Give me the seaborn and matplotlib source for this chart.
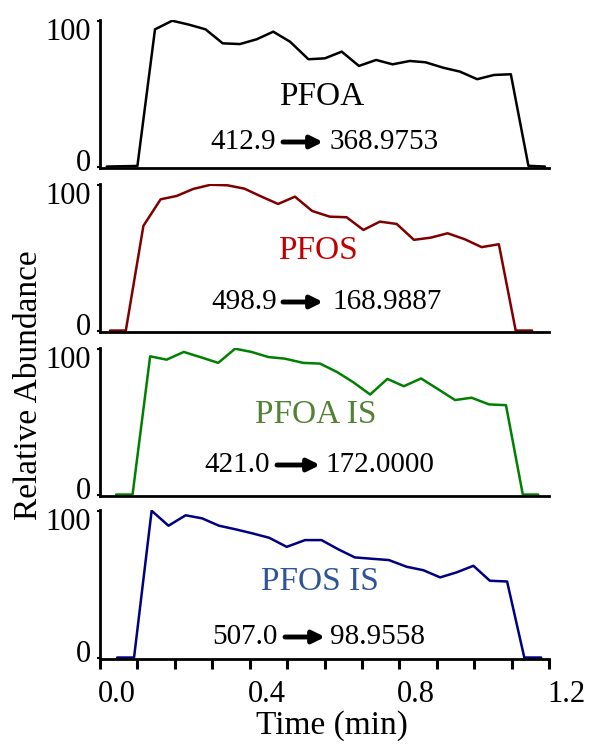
import matplotlib
matplotlib.use("Agg")
import matplotlib.pyplot as plt
import matplotlib.transforms as mtransforms
import seaborn as sns

# Retention time (min) and relative abundance (%) for each MRM transition
pfoa_time = [0.018, 0.100, 0.147, 0.193, 0.238, 0.282, 0.328, 0.374, 0.419, 0.463,
             0.508, 0.557, 0.601, 0.646, 0.692, 0.738, 0.782, 0.828, 0.870, 0.917,
             0.962, 1.008, 1.053, 1.098, 1.145, 1.189]
pfoa_abund = [0.0, 0.4, 94.1, 100.0, 97.3, 94.1, 84.5, 84.0, 87.3, 92.5,
              85.6, 73.6, 74.2, 78.8, 69.0, 73.1, 70.1, 72.4, 71.5, 67.8,
              65.1, 59.9, 62.8, 63.3, 0.5, 0.0]

pfos_time = [0.027, 0.069, 0.116, 0.162, 0.205, 0.249, 0.296, 0.341, 0.386, 0.432,
             0.476, 0.521, 0.567, 0.614, 0.659, 0.704, 0.748, 0.793, 0.839, 0.884,
             0.929, 0.975, 1.020, 1.066, 1.111, 1.155]
pfos_abund = [0.0, 0.0, 71.8, 90.0, 92.3, 97.1, 100.0, 99.6, 97.3, 91.8,
              86.8, 91.8, 82.0, 78.1, 77.7, 69.0, 74.7, 73.1, 62.2, 63.7,
              66.7, 62.6, 57.2, 59.2, 0.0, 0.0]

pfoa_is_time = [0.043, 0.087, 0.134, 0.178, 0.224, 0.270, 0.316, 0.361, 0.405, 0.450,
                0.494, 0.543, 0.588, 0.633, 0.677, 0.722, 0.768, 0.812, 0.858, 0.902,
                0.949, 0.993, 1.040, 1.085, 1.130, 1.171]
pfoa_is_abund = [0.0, 0.0, 94.8, 92.5, 97.8, 94.1, 90.3, 100.0, 97.8, 94.3,
                 93.2, 90.3, 89.8, 84.1, 77.0, 68.6, 79.3, 74.3, 79.6, 72.5,
                 64.8, 66.4, 61.8, 61.3, 0.0, 0.0]

pfos_is_time = [0.046, 0.091, 0.138, 0.183, 0.229, 0.273, 0.318, 0.363, 0.407, 0.452,
                0.499, 0.548, 0.592, 0.637, 0.681, 0.726, 0.772, 0.820, 0.864, 0.909,
                0.953, 0.998, 1.042, 1.088, 1.134, 1.179]
pfos_is_abund = [0.0, 0.0, 100.0, 89.8, 96.9, 94.8, 89.8, 87.3, 84.6, 81.6,
                 75.4, 80.0, 80.0, 73.7, 68.2, 67.3, 66.4, 61.8, 59.5, 54.6,
                 58.0, 62.5, 52.3, 51.8, 0.0, 0.0]

compounds = ["PFOA", "PFOS", "PFOA IS", "PFOS IS"]
precursors = ["412.9", "498.9", "421.0", "507.0"]
products = ["368.9753", "168.9887", "172.0000", "98.9558"]
x_ticks = [0.0, 0.1, 0.2, 0.3, 0.4, 0.5, 0.6, 0.7, 0.8, 0.9, 1.0, 1.1, 1.2]
x_tick_labels = ["0.0", "", "", "", "0.4", "", "", "", "0.8", "", "", "", "1.2"]
y_ticks = [0, 100]
y_tick_labels = ["0", "100"]

times = [pfoa_time, pfos_time, pfoa_is_time, pfos_is_time]
abunds = [pfoa_abund, pfos_abund, pfoa_is_abund, pfos_is_abund]
line_colors = ["#000000", "#800000", "#008000", "#000080"]
name_colors = ["#000000", "#C00000", "#548235", "#2F5597"]

sns.set_theme(style="white")
plt.rcParams["font.family"] = ["Liberation Serif", "DejaVu Serif"]

W, H = 589, 746
fig = plt.figure(figsize=(W / 100, H / 100), dpi=100)

# panel extents in pixels: (top, bottom)
panel_rows = [(20, 168), (184, 332), (348, 496), (510, 659)]
left_px, right_px = 100, 549

# text layout per panel: name centre (x, y), transition row y, left-number right edge,
# arrow start/end, right-number left edge
name_pos = [(322, 97), (318, 251), (316, 415), (320, 582)]
trans_y = [142, 302, 465, 637]
num_left_edge = [276, 277, 270, 278]
arrow_span = [(283, 323), (283, 323), (277, 320), (285, 325)]
num_right_start = [330, 332, 325, 330]

def fx(x):
    return x / W

def fy(y):
    return 1 - y / H

axes = []
for i, (top, bottom) in enumerate(panel_rows):
    ax = fig.add_axes([fx(left_px), fy(bottom), (right_px - left_px) / W, (bottom - top) / H])
    axes.append(ax)
    sns.lineplot(x=times[i], y=abunds[i], ax=ax, color=line_colors[i], lw=1.8,
                 sort=False, estimator=None)
    ax.set_xlim(0, 1.2)
    ax.set_ylim(-1, 100.5)
    for side in ["top", "right"]:
        ax.spines[side].set_visible(False)
    for side in ["left", "bottom"]:
        ax.spines[side].set_color("black")
        ax.spines[side].set_linewidth(2.0)
    ax.set_yticks(y_ticks)
    ax.set_yticklabels(y_tick_labels)
    ax.tick_params(axis="y", direction="out", length=2.5, width=1.5, pad=4,
                   labelsize=22, colors="black", left=True)
    # nudge the 0/100 labels inside the axis span
    offsets = [(0, 7), (0, -8)]
    for lab, (dx, dy) in zip(ax.get_yticklabels(), offsets):
        lab.set_transform(lab.get_transform() +
                          mtransforms.ScaledTranslation(dx / 100, dy / 100, fig.dpi_scale_trans))
    ax.set_xlabel("")
    ax.set_ylabel("")
    if i < 3:
        ax.set_xticks([])
    else:
        ax.set_xticks(x_ticks)
        ax.set_xticklabels(x_tick_labels)
        ax.tick_params(axis="x", direction="out", length=7, width=2.2, pad=8,
                       labelsize=22, colors="black", bottom=True)
        for lab in ax.get_xticklabels():
            lab.set_transform(lab.get_transform() +
                              mtransforms.ScaledTranslation(17 / 100, 0, fig.dpi_scale_trans))

    # compound name and MRM transition
    fig.text(fx(name_pos[i][0]), fy(name_pos[i][1]), compounds[i], ha="center",
             va="center", fontsize=24, color=name_colors[i])
    fig.text(fx(num_left_edge[i]), fy(trans_y[i]), precursors[i], ha="right",
             va="center", fontsize=21, color="black")
    fig.text(fx(num_right_start[i]), fy(trans_y[i]), products[i], ha="left",
             va="center", fontsize=21, color="black")
    a0, a1 = arrow_span[i]
    ax.annotate("", xy=(a1, H - trans_y[i]), xytext=(a0, H - trans_y[i]),
                xycoords="figure pixels", textcoords="figure pixels",
                arrowprops=dict(arrowstyle="-|>", lw=3.5, color="black",
                                mutation_scale=18, shrinkA=0, shrinkB=0))

fig.text(fx(29), fy(385), "Relative Abundance", rotation=90, ha="center",
         va="center", fontsize=24, color="black")
fig.text(fx(332), fy(726), "Time (min)", ha="center", va="center",
         fontsize=24, color="black")

fig.savefig("out.png", dpi=100, facecolor="white")
